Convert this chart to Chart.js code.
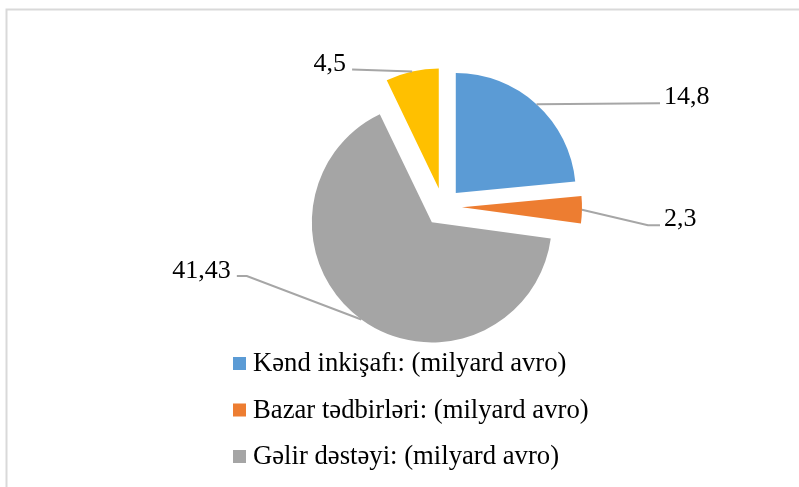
<!DOCTYPE html>
<html>
<head>
<meta charset="utf-8">
<script src="https://cdn.jsdelivr.net/npm/chart.js@4/dist/chart.umd.min.js"></script>
<style>
  html, body { margin: 0; padding: 0; background: #ffffff; }
  #wrap { width: 799px; height: 487px; position: relative; }
</style>
</head>
<body>
<div id="wrap"><canvas id="c" width="799" height="487"></canvas></div>
<script>
// ---- data ----
const categories = [
  "Kənd inkişafı: (milyard avro)",
  "Bazar tədbirləri: (milyard avro)",
  "Gəlir dəstəyi: (milyard avro)",
  "Digər: (milyard avro)"
];
const values = [14.8, 2.3, 41.43, 4.5];
const valueLabels = ["14,8", "2,3", "41,43", "4,5"];
const colors = ["#5B9BD5", "#ED7D31", "#A5A5A5", "#FFC000"];

// ---- layout ----
const EXPLODE = 19;
const labelOffsets = [[123.5, -1], [78, 15.5], [-124.5, -43.5], [-60, -2]];
const elbowLengths = [0, 12, 10, 0];
const legendShown = 3;
const LABEL_FONT = "26px 'Liberation Serif', 'Times New Roman', serif";
const LEGEND_FONT = "26.7px 'Liberation Serif', 'Times New Roman', serif";

const explodePlugin = {
  id: 'explode',
  afterDatasetsUpdate(chart) {
    const meta = chart.getDatasetMeta(0);
    meta.data.forEach(arc => {
      const mid = (arc.startAngle + arc.endAngle) / 2;
      arc.x += Math.cos(mid) * EXPLODE;
      arc.y += Math.sin(mid) * EXPLODE;
    });
  }
};

const decorPlugin = {
  id: 'decor',
  beforeDraw(chart) {
    const ctx = chart.ctx;
    ctx.save();
    ctx.fillStyle = '#ffffff';
    ctx.fillRect(0, 0, chart.width, chart.height);
    ctx.strokeStyle = '#d9d9d9';
    ctx.lineWidth = 2;
    ctx.beginPath();
    ctx.moveTo(6.5, chart.height + 5);
    ctx.lineTo(6.5, 9.5);
    ctx.lineTo(chart.width + 5, 9.5);
    ctx.stroke();
    ctx.restore();
  },
  afterDatasetsDraw(chart) {
    const ctx = chart.ctx;
    const meta = chart.getDatasetMeta(0);
    ctx.save();
    ctx.font = LABEL_FONT;
    meta.data.forEach((arc, i) => {
      const p = arc.getProps(['x', 'y', 'startAngle', 'endAngle', 'outerRadius'], true);
      const mid = (p.startAngle + p.endAngle) / 2;
      const sx = p.x + Math.cos(mid) * p.outerRadius;
      const sy = p.y + Math.sin(mid) * p.outerRadius;
      const ex = sx + labelOffsets[i][0];
      const ey = sy + labelOffsets[i][1];
      const dir = Math.sign(labelOffsets[i][0]);
      const bx = ex - dir * elbowLengths[i];
      ctx.strokeStyle = '#A6A6A6';
      ctx.lineWidth = 2;
      ctx.beginPath();
      ctx.moveTo(sx, sy);
      ctx.lineTo(bx, ey);
      ctx.lineTo(ex, ey);
      ctx.stroke();
      ctx.fillStyle = '#000000';
      ctx.textBaseline = 'alphabetic';
      if (dir > 0) {
        ctx.textAlign = 'left';
        ctx.fillText(valueLabels[i], ex + 4, ey + 1);
      } else {
        ctx.textAlign = 'right';
        ctx.fillText(valueLabels[i], ex - 6, ey + 2);
      }
    });
    // legend
    ctx.font = LEGEND_FONT;
    const lx = 233, ly = 371, step = 46.5;
    ctx.textAlign = 'left';
    for (let i = 0; i < legendShown; i++) {
      const base = ly + i * step;
      ctx.fillStyle = colors[i];
      ctx.fillRect(lx, base - 14, 13, 13);
      ctx.fillStyle = '#000000';
      ctx.fillText(chart.data.labels[i], lx + 20, base);
    }
    ctx.restore();
  }
};

new Chart(document.getElementById('c'), {
  type: 'pie',
  data: {
    labels: categories,
    datasets: [{
      data: values,
      backgroundColor: colors,
      borderWidth: 0,
      offset: 0,
      radius: 120
    }]
  },
  options: {
    responsive: false,
    animation: false,
    events: [],
    devicePixelRatio: 1,
    layout: { padding: { left: 87, right: 0, top: 0, bottom: 73 } },
    plugins: {
      legend: { display: false },
      tooltip: { enabled: false }
    }
  },
  plugins: [explodePlugin, decorPlugin]
});
</script>
</body>
</html>
